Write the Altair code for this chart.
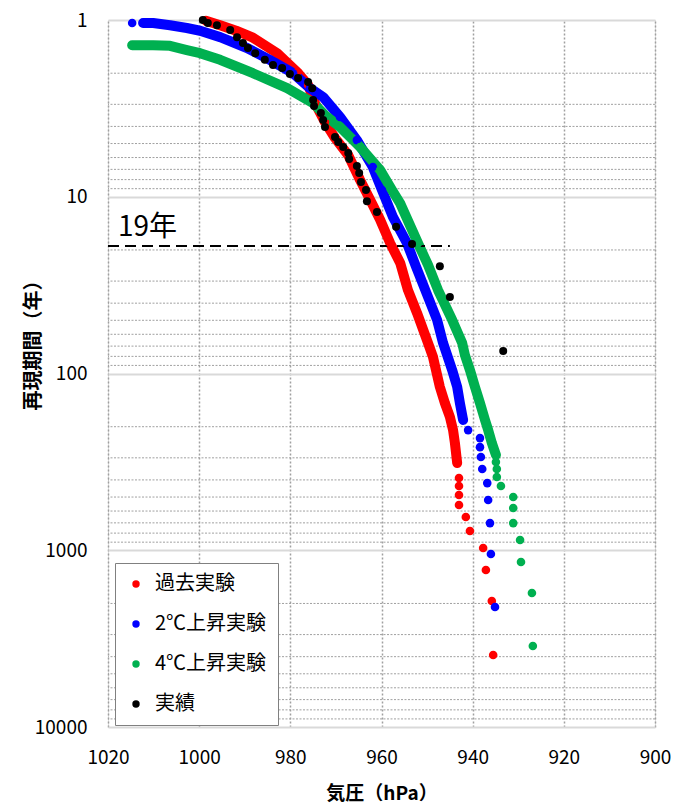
import altair as alt
import pandas as pd

FONT = "Noto Sans CJK JP"

series_names = ["過去実験", "2℃上昇実験", "4℃上昇実験", "実績"]
series_colors = ["#ff0000", "#0000ff", "#00b050", "#000000"]

# x: 気圧 (hPa), y: 再現期間 (年)
x_ticks = [1020, 1000, 980, 960, 940, 920, 900]
y_ticks = [1, 10, 100, 1000, 10000]
y_minor = [2, 3, 4, 5, 6, 7, 8, 9,
           20, 30, 40, 50, 60, 70, 80, 90,
           200, 300, 400, 500, 600, 700, 800, 900,
           2000, 3000, 4000, 5000, 6000, 7000, 8000, 9000]

# 過去実験 (red)
past_band_p = [998.5, 995.4, 991.9, 988.2, 982.9, 978.5, 976.1, 974.6, 972.4, 970.2,
               967.3, 964.7, 962.5, 960.3, 958.1, 955.9, 954.2, 952.2, 949.8, 948.7,
               947.2, 946.1, 945.0, 944.3, 943.9, 943.4]
past_band_t = [1.01, 1.07, 1.15, 1.26, 1.54, 1.97, 2.33, 2.95, 3.78, 4.65,
               5.81, 8.04, 10.4, 13.5, 18.3, 23.7, 33.7, 45.5, 67.2, 80.7,
               119, 147, 176, 209, 247, 321]
past_tail_p = [943.0, 943.0, 943.0, 943.0, 941.5, 940.6, 937.7, 937.1, 935.8, 935.5]
past_tail_t = [390, 433, 487, 555, 649, 778, 971, 1294, 1938, 3917]

# 2℃上昇実験 (blue)
p2_band_p = [1012.3, 1010.1, 1006.4, 1002.7, 999.8, 995.4, 989.5, 984.5, 979.4, 975.7,
             972.8, 969.1, 965.4, 961.9, 959.9, 957.5, 954.4, 952.4, 950.4, 947.8,
             946.5, 945.6, 944.5, 943.4, 942.8, 942.1]
p2_band_t = [1.04, 1.04, 1.07, 1.11, 1.15, 1.25, 1.44, 1.68, 2.00, 2.43,
             2.73, 3.54, 4.78, 6.79, 9.16, 13.0, 18.3, 25.0, 33.7, 49.8,
             67.2, 78.6, 95.6, 119, 147, 183]
p2_tail_p = [1014.7, 941.0, 938.4, 938.4, 938.2, 937.9, 936.8, 936.6, 936.2, 936.0, 935.1]
p2_tail_t = [1.04, 209, 232, 261, 297, 347, 417, 520, 702, 1050, 2096]

# 4℃上昇実験 (green)
p4_band_p = [1014.7, 1010.1, 1006.4, 1002.7, 999.8, 995.4, 988.2, 980.7, 975.0, 972.2,
             969.1, 964.7, 960.3, 957.7, 955.9, 952.0, 949.8, 947.6, 944.5, 942.3,
             941.7, 940.6, 939.5, 938.4, 937.3, 936.6, 935.8, 934.9]
p4_band_t = [1.39, 1.39, 1.40, 1.48, 1.54, 1.68, 2.00, 2.43, 2.95, 3.49,
             4.03, 5.23, 7.06, 9.16, 10.9, 18.3, 24.3, 33.7, 49.8, 67.2,
             78.6, 95.6, 119, 147, 183, 209, 247, 289]
p4_tail_p = [934.9, 934.7, 934.7, 933.8, 931.1, 931.1, 931.1, 929.6, 929.4, 927.0, 926.8]
p4_tail_t = [317, 347, 385, 433, 500, 577, 702, 875, 1166, 1746, 3483]

# 実績 (black)
obs_p = [999.2, 998.1, 996.1, 993.2, 991.7, 990.4, 989.3, 987.7, 985.6, 983.8,
         981.8, 980.1, 978.3, 976.1, 975.2, 975.0, 974.8, 973.3, 972.8, 972.4,
         970.2, 969.5, 968.4, 967.3, 967.1, 965.4, 964.9, 964.5, 963.4, 963.2,
         961.0, 956.8, 953.3, 947.2, 945.0, 933.3]
obs_t = [1.00, 1.04, 1.07, 1.14, 1.25, 1.35, 1.44, 1.54, 1.68, 1.80,
         1.87, 2.02, 2.13, 2.24, 2.43, 2.84, 3.07, 3.36, 3.68, 4.03,
         4.59, 4.90, 5.23, 5.66, 6.12, 6.70, 7.34, 8.25, 9.16, 10.6,
         12.2, 14.8, 18.5, 24.7, 36.9, 74.6]

# 19年 threshold
thr_period = [19]
thr_from = [1020]
thr_to = [945]
thr_label = ["19年"]
thr_label_p = [1017.8]
thr_label_t = [16.7]


def frame(name, p, t):
    return pd.DataFrame({"series": name, "pressure": p, "period": t})


bands = [frame(series_names[0], past_band_p, past_band_t),
         frame(series_names[1], p2_band_p, p2_band_t),
         frame(series_names[2], p4_band_p, p4_band_t)]
for b in bands:
    b["idx"] = range(len(b))

points = pd.concat([
    frame(series_names[0], past_band_p + past_tail_p, past_band_t + past_tail_t),
    frame(series_names[1], p2_band_p + p2_tail_p, p2_band_t + p2_tail_t),
    frame(series_names[2], p4_band_p + p4_tail_p, p4_band_t + p4_tail_t),
    frame(series_names[3], obs_p, obs_t),
], ignore_index=True)
points["idx"] = range(len(points))

x_enc = alt.X("pressure:Q",
              scale=alt.Scale(domain=[900, 1020], reverse=True),
              axis=alt.Axis(values=x_ticks, format="d", title="気圧（hPa）",
                            grid=True, gridColor="#a0a0a0", gridDash=[2, 2], gridWidth=1.5,
                            ticks=False, domain=False, labelFlush=False,
                            labelFont=FONT, labelFontSize=19, labelColor="#000000",
                            labelPadding=21,
                            titleFont=FONT, titleFontSize=19, titleFontWeight="bold",
                            titleColor="#000000", titleX=273.5, titleY=66,
                            titleBaseline="middle", titleAlign="center"))
y_enc = alt.Y("period:Q",
              scale=alt.Scale(type="log", domain=[1, 10000], reverse=True),
              axis=alt.Axis(values=y_ticks, format="d", title="再現期間（年）",
                            grid=True, gridColor="#d9d9d9", gridWidth=2,
                            ticks=False, domain=False, labelFlush=False,
                            labelFont=FONT, labelFontSize=19, labelColor="#000000",
                            labelPadding=21,
                            titleFont=FONT, titleFontSize=20, titleFontWeight="bold",
                            titleColor="#000000", titleX=-75, titleY=320,
                            titleAngle=270, titleBaseline="middle", titleAlign="center"))

minor = alt.Chart(pd.DataFrame({"period": y_minor})).mark_rule(
    color="#a0a0a0", strokeDash=[2, 1.5], strokeWidth=1
).encode(y=y_enc)

line_layers = []
for b, col in zip(bands, series_colors[:3]):
    line_layers.append(
        alt.Chart(b).mark_line(strokeWidth=10, strokeCap="round", strokeJoin="round",
                               color=col)
        .encode(x=x_enc, y=y_enc, order="idx:Q")
    )

thr = alt.Chart(pd.DataFrame({"pressure": thr_from, "pressure_end": thr_to,
                              "period": thr_period})).mark_rule(
    color="#000000", strokeDash=[11, 6], strokeWidth=2
).encode(x=x_enc, x2="pressure_end:Q", y=y_enc)

pts = alt.Chart(points).mark_circle(opacity=1).encode(
    x=x_enc, y=y_enc,
    color=alt.Color("series:N",
                    scale=alt.Scale(domain=series_names, range=series_colors),
                    legend=alt.Legend(title=None, orient="none", legendX=7, legendY=543,
                                      direction="vertical", symbolType="circle",
                                      symbolSize=55, labelFont=FONT, labelFontSize=20,
                                      labelColor="#000000", rowPadding=20, padding=11,
                                      strokeColor="#808080", fillColor="#ffffff",
                                      labelOffset=9, labelLimit=300)),
    size=alt.condition(alt.datum.series == "実績", alt.value(64), alt.value(74)),
    order="idx:Q",
)

label = alt.Chart(pd.DataFrame({"pressure": thr_label_p, "period": thr_label_t,
                                "label": thr_label})).mark_text(
    align="left", baseline="alphabetic", font=FONT, fontSize=28, color="#000000"
).encode(x=x_enc, y=y_enc, text="label:N")

chart = alt.layer(minor, *line_layers, thr, pts, label).properties(
    width=547, height=707,
    autosize=alt.AutoSizeParams(type="none"),
    padding={"left": 108, "top": 20, "right": 18, "bottom": 78},
).configure_view(stroke="#8c8c8c", strokeWidth=2).configure(background="#ffffff")

chart.save("out.html", embed_options={"renderer": "svg", "actions": False})
